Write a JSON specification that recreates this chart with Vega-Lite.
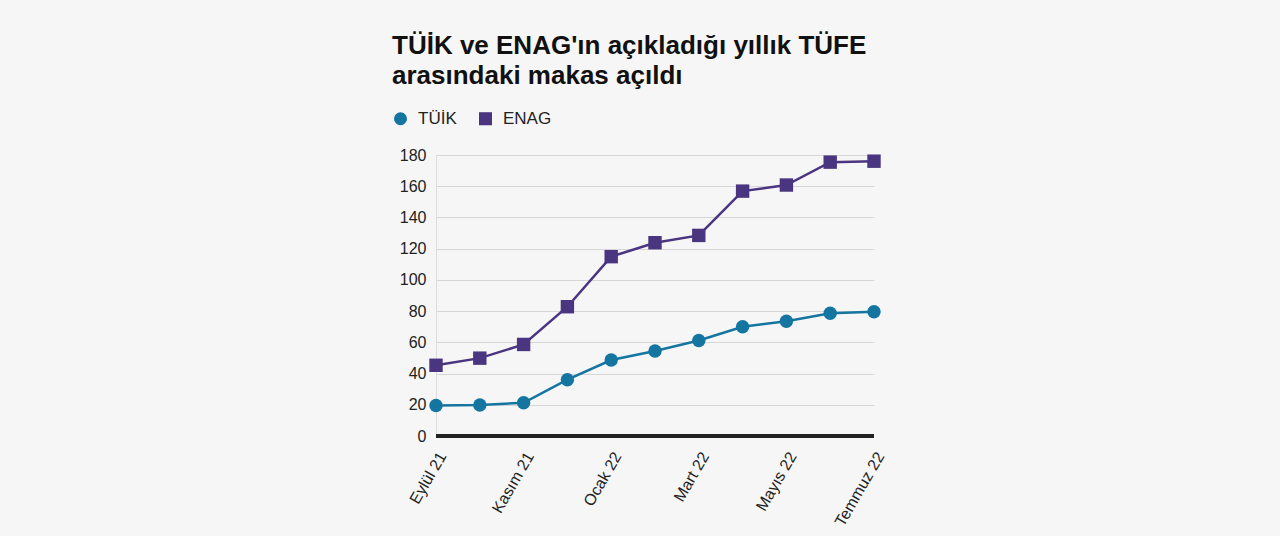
{
  "$schema": "https://vega.github.io/schema/vega-lite/v6.json",
  "width": 438,
  "height": 281,
  "padding": {"left": 392, "top": 33, "right": 395, "bottom": 30},
  "background": "#f6f6f6",
  "title": {
    "text": ["TÜİK ve ENAG'ın açıkladığı yıllık TÜFE", "arasındaki makas açıldı"],
    "anchor": "start",
    "frame": "bounds",
    "font": "Liberation Sans",
    "fontSize": 26,
    "fontWeight": "bold",
    "color": "#111111",
    "lineHeight": 30,
    "offset": 21
  },
  "data": {
    "values": [
      {"ay": "Eylül 21", "seri": "TÜİK", "deger": 19.58},
      {"ay": "Ekim 21", "seri": "TÜİK", "deger": 19.89},
      {"ay": "Kasım 21", "seri": "TÜİK", "deger": 21.31},
      {"ay": "Aralık 21", "seri": "TÜİK", "deger": 36.08},
      {"ay": "Ocak 22", "seri": "TÜİK", "deger": 48.69},
      {"ay": "Şubat 22", "seri": "TÜİK", "deger": 54.44},
      {"ay": "Mart 22", "seri": "TÜİK", "deger": 61.14},
      {"ay": "Nisan 22", "seri": "TÜİK", "deger": 69.97},
      {"ay": "Mayıs 22", "seri": "TÜİK", "deger": 73.5},
      {"ay": "Haziran 22", "seri": "TÜİK", "deger": 78.62},
      {"ay": "Temmuz 22", "seri": "TÜİK", "deger": 79.6},
      {"ay": "Eylül 21", "seri": "ENAG", "deger": 45.31},
      {"ay": "Ekim 21", "seri": "ENAG", "deger": 49.87},
      {"ay": "Kasım 21", "seri": "ENAG", "deger": 58.65},
      {"ay": "Aralık 21", "seri": "ENAG", "deger": 82.81},
      {"ay": "Ocak 22", "seri": "ENAG", "deger": 114.87},
      {"ay": "Şubat 22", "seri": "ENAG", "deger": 123.8},
      {"ay": "Mart 22", "seri": "ENAG", "deger": 128.49},
      {"ay": "Nisan 22", "seri": "ENAG", "deger": 156.86},
      {"ay": "Mayıs 22", "seri": "ENAG", "deger": 160.76},
      {"ay": "Haziran 22", "seri": "ENAG", "deger": 175.43},
      {"ay": "Temmuz 22", "seri": "ENAG", "deger": 176.04}
    ]
  },
  "encoding": {
    "x": {
      "field": "ay",
      "type": "ordinal",
      "sort": null,
      "scale": {"type": "point", "padding": 0},
      "axis": {
        "title": null,
        "values": ["Eylül 21", "Kasım 21", "Ocak 22", "Mart 22", "Mayıs 22", "Temmuz 22"],
        "labelAngle": -60,
        "labelAlign": "right",
        "labelBaseline": "middle",
        "labelFont": "Liberation Sans",
        "labelFontSize": 16,
        "labelColor": "#222222",
        "labelPadding": 17,
        "labelOffset": 6,
        "ticks": false,
        "domain": false,
        "grid": false
      }
    },
    "y": {
      "field": "deger",
      "type": "quantitative",
      "scale": {"domain": [0, 180]},
      "axis": {
        "title": null,
        "values": [0, 20, 40, 60, 80, 100, 120, 140, 160, 180],
        "labelFont": "Liberation Sans",
        "labelFontSize": 16,
        "labelColor": "#222222",
        "labelPadding": 10,
        "ticks": false,
        "domain": true,
        "domainColor": "#dddddd",
        "gridColor": "#d6d6d6",
        "gridWidth": 1.2
      }
    },
    "color": {
      "field": "seri",
      "type": "nominal",
      "scale": {"domain": ["TÜİK", "ENAG"], "range": ["#1476a0", "#4a3580"]},
      "legend": {
        "title": null,
        "orient": "none",
        "direction": "horizontal",
        "legendX": -44,
        "legendY": -45,
        "labelFont": "Liberation Sans",
        "labelFontSize": 17,
        "labelColor": "#222222",
        "labelOffset": 9,
        "symbolSize": 170,
        "columnPadding": 20,
        "symbolStrokeWidth": 0
      }
    }
  },
  "layer": [
    {
      "mark": {"type": "rule", "color": "#222222", "strokeWidth": 3},
      "encoding": {"y": {"datum": 0}, "x": null, "color": null}
    },
    {
      "mark": {"type": "line", "strokeWidth": 2.5},
      "encoding": {"detail": {"field": "seri"}}
    },
    {
      "mark": {"type": "point", "filled": true, "opacity": 1, "size": 180},
      "encoding": {
        "shape": {
          "field": "seri",
          "type": "nominal",
          "scale": {"domain": ["TÜİK", "ENAG"], "range": ["circle", "square"]},
          "legend": null
        }
      }
    }
  ],
  "config": {"view": {"stroke": null}}
}
